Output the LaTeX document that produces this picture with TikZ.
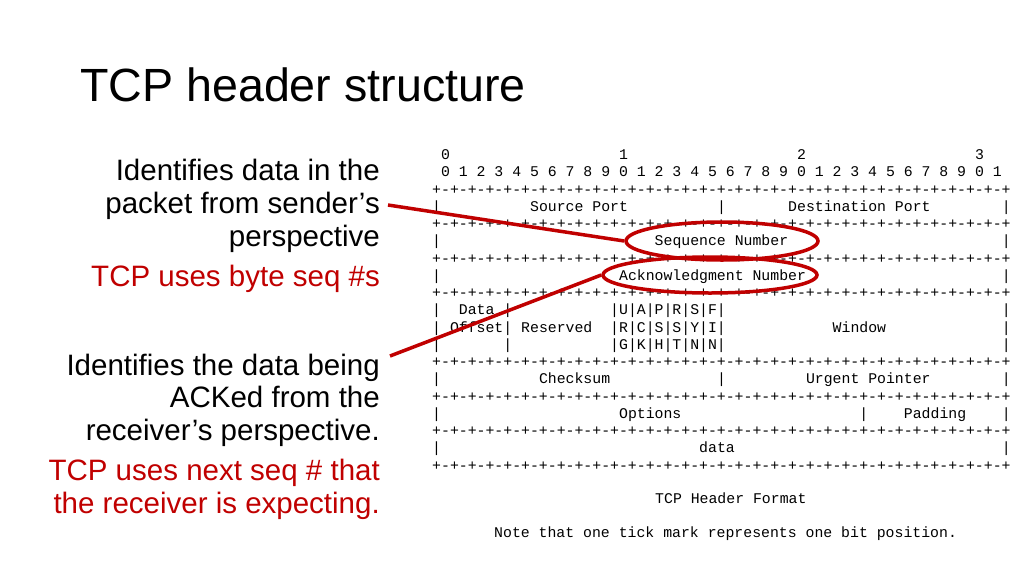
\documentclass[tikz,border=0pt]{standalone}
\usepackage{fontspec}
\usetikzlibrary{shapes.geometric}
\setmainfont{Liberation Sans}
\newfontfamily\monof{Liberation Mono}
\definecolor{slidered}{RGB}{192,0,0}
\newcommand\mt[3]{\node[mono] at ({432+8.9*#1},{159.5+17.25*#2}) {#3};}
\newcommand\pl[1]{\node[mono] at (432,{159.5+17.25*#1}) {+-+-+-+-+-+-+-+-+-+-+-+-+-+-+-+-+-+-+-+-+-+-+-+-+-+-+-+-+-+-+-+-+};}
\begin{document}
\begin{tikzpicture}[x=1pt,y=-1pt,
  mono/.style={font=\monof\fontsize{14.83}{16}\selectfont,anchor=base west,inner sep=0pt},
  lt/.style={font=\fontsize{29.5}{32}\selectfont,anchor=base east,inner sep=0pt},
  redmark/.style={draw=slidered,line width=3.5pt}]
\useasboundingbox (0,0) rectangle (1024,576);
\node[font=\fontsize{46.6}{50}\selectfont,anchor=base west,inner sep=0pt] (title) at (80,101) {TCP header structure};
% left texts
\node[lt] (a1) at (380,180) {Identifies data in the};
\node[lt] (a2) at (380,213) {packet from sender’s};
\node[lt] (a3) at (380,246) {perspective};
\node[lt,text=slidered] (a4) at (380,286) {TCP uses byte seq \#s};
\node[lt] (b1) at (380,375) {Identifies the data being};
\node[lt] (b2) at (380,407) {ACKed from the};
\node[lt] (b3) at (380,440) {receiver’s perspective.};
\node[lt,text=slidered] (b4) at (380,480) {TCP uses next seq \# that};
\node[lt,text=slidered] (b5) at (380,513) {the receiver is expecting.};
% header ascii
\mt{1}{0}{0}\mt{21}{0}{1}\mt{41}{0}{2}\mt{61}{0}{3}
\mt{1}{1}{0~1~2~3~4~5~6~7~8~9~0~1~2~3~4~5~6~7~8~9~0~1~2~3~4~5~6~7~8~9~0~1}
\pl{2}\pl{4}\pl{6}\pl{8}\pl{12}\pl{14}\pl{16}\pl{18}
\mt{0}{3}{|}\mt{11}{3}{Source~Port}\mt{32}{3}{|}\mt{40}{3}{Destination~Port}\mt{64}{3}{|}
\mt{0}{5}{|}\mt{25}{5}{Sequence~Number}\mt{64}{5}{|}
\mt{0}{7}{|}\mt{21}{7}{Acknowledgment~Number}\mt{64}{7}{|}
\mt{0}{9}{|}\mt{3}{9}{Data}\mt{8}{9}{|}\mt{20}{9}{|U|A|P|R|S|F|}\mt{64}{9}{|}
\mt{0}{10}{|}\mt{2}{10}{Offset|}\mt{10}{10}{Reserved}\mt{20}{10}{|R|C|S|S|Y|I|}\mt{45}{10}{Window}\mt{64}{10}{|}
\mt{0}{11}{|}\mt{8}{11}{|}\mt{20}{11}{|G|K|H|T|N|N|}\mt{64}{11}{|}
\mt{0}{13}{|}\mt{12}{13}{Checksum}\mt{32}{13}{|}\mt{42}{13}{Urgent~Pointer}\mt{64}{13}{|}
\mt{0}{15}{|}\mt{21}{15}{Options}\mt{48}{15}{|}\mt{53}{15}{Padding}\mt{64}{15}{|}
\mt{0}{17}{|}\mt{30}{17}{data}\mt{64}{17}{|}
\node[mono] (fmt) at (655,503) {TCP~Header~Format};
\node[mono] (note) at (494,537) {Note~that~one~tick~mark~represents~one~bit~position.};
% red marks
\node[redmark,ellipse,minimum width=192pt,minimum height=38pt,inner sep=0pt] (seq) at (722,241) {};
\node[redmark,ellipse,minimum width=214pt,minimum height=36pt,inner sep=0pt] (ack) at (710,275) {};
\coordinate (p1) at (388,205);
\coordinate (p2) at (390,356);
\draw[redmark] (p1) -- (seq.west);
\draw[redmark] (p2) -- (ack.west);
\end{tikzpicture}
\end{document}
